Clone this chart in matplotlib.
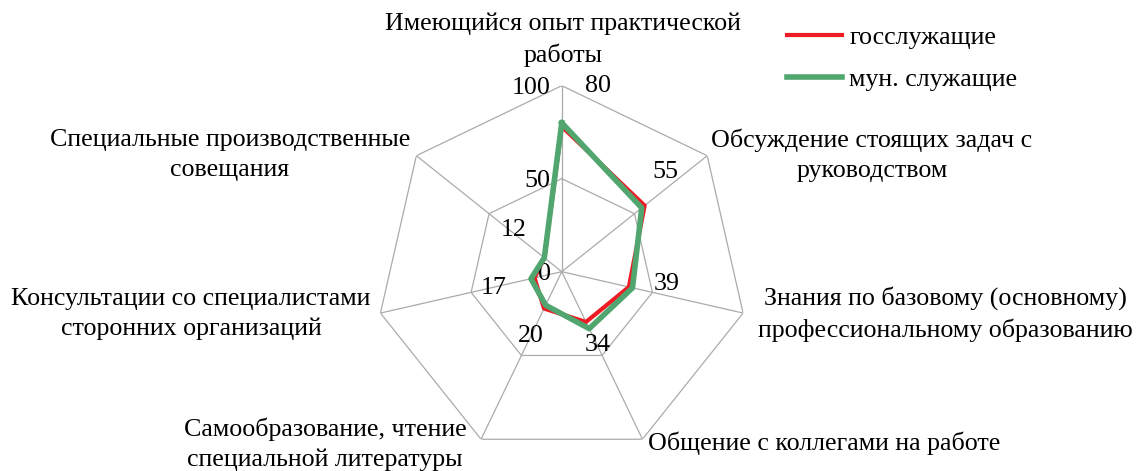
import matplotlib.pyplot as plt
import numpy as np

plt.rcParams['font.family'] = ['Liberation Serif', 'DejaVu Serif']

# Data
categories = ['Имеющийся опыт практической\nработы',
              'Обсуждение стоящих задач с\nруководством',
              'Знания по базовому (основному)\nпрофессиональному образованию',
              'Общение с коллегами на работе',
              'Самообразование, чтение\nспециальной литературы',
              'Консультации со специалистами\nсторонних организаций',
              'Специальные производственные\nсовещания']
gos = [78, 57, 37, 30, 22, 15, 12]
mun = [80, 55, 39, 34, 20, 17, 12]
rticks = [0, 50, 100]

W, H = 1138, 471
fig = plt.figure(figsize=(W / 100, H / 100), dpi=100)
ax = fig.add_axes([0.3302, 0.0283, 0.3269, 0.7898], projection='polar')
ax.set_theta_zero_location('N')
ax.set_theta_direction(-1)
ax.set_ylim(0, 100)
ax.set_axis_off()

n = len(categories)
theta = np.arange(n) * 2 * np.pi / n
th_closed = np.append(theta, theta[0])

# heptagon grid
grid_col = '#ababab'
for r in rticks[1:]:
    ax.plot(th_closed, [r] * (n + 1), color=grid_col, lw=0.9, zorder=1)
for t in theta:
    ax.plot([t, t], [0, 100], color=grid_col, lw=0.9, zorder=1)

# series
ax.plot(th_closed, gos + gos[:1], color='#ed1c24', lw=3, zorder=3, label='госслужащие')
ax.plot(th_closed, mun + mun[:1], color='#50a66e', lw=4, zorder=4, label='мун. служащие')

fs = 18.7

# radial tick labels
for r in rticks:
    ax.annotate(str(r), xy=(0, r), xytext=(-11, -2), textcoords='offset pixels',
                ha='right', va='center', fontsize=fs)

# data labels (мун. служащие)
offsets = [(36, 37), (24, 36), (34, 4), (8, -16), (-15, -31), (-37, -9), (-31, 28)]
for t, v, (dx, dy) in zip(theta, mun, offsets):
    ax.annotate(str(v), xy=(t, v), xytext=(dx, dy), textcoords='offset pixels',
                ha='center', va='center', fontsize=fs)

# category labels
label_pos = [(563, 40), (872, 155), (945, 314), (824, 443), (325, 444), (191, 314), (230, 155)]
for lab, (x, y) in zip(categories, label_pos):
    fig.text(x / W, 1 - y / H, lab, ha='center', va='center', fontsize=fs,
             linespacing=1.45)

fig.legend(loc='upper left', bbox_to_anchor=(787 / W, 1 - 26 / H), frameon=False,
           fontsize=fs, handlelength=2.1, handletextpad=0.3, labelspacing=0.72,
           borderpad=0, borderaxespad=0)

fig.savefig('out.png', dpi=100)
